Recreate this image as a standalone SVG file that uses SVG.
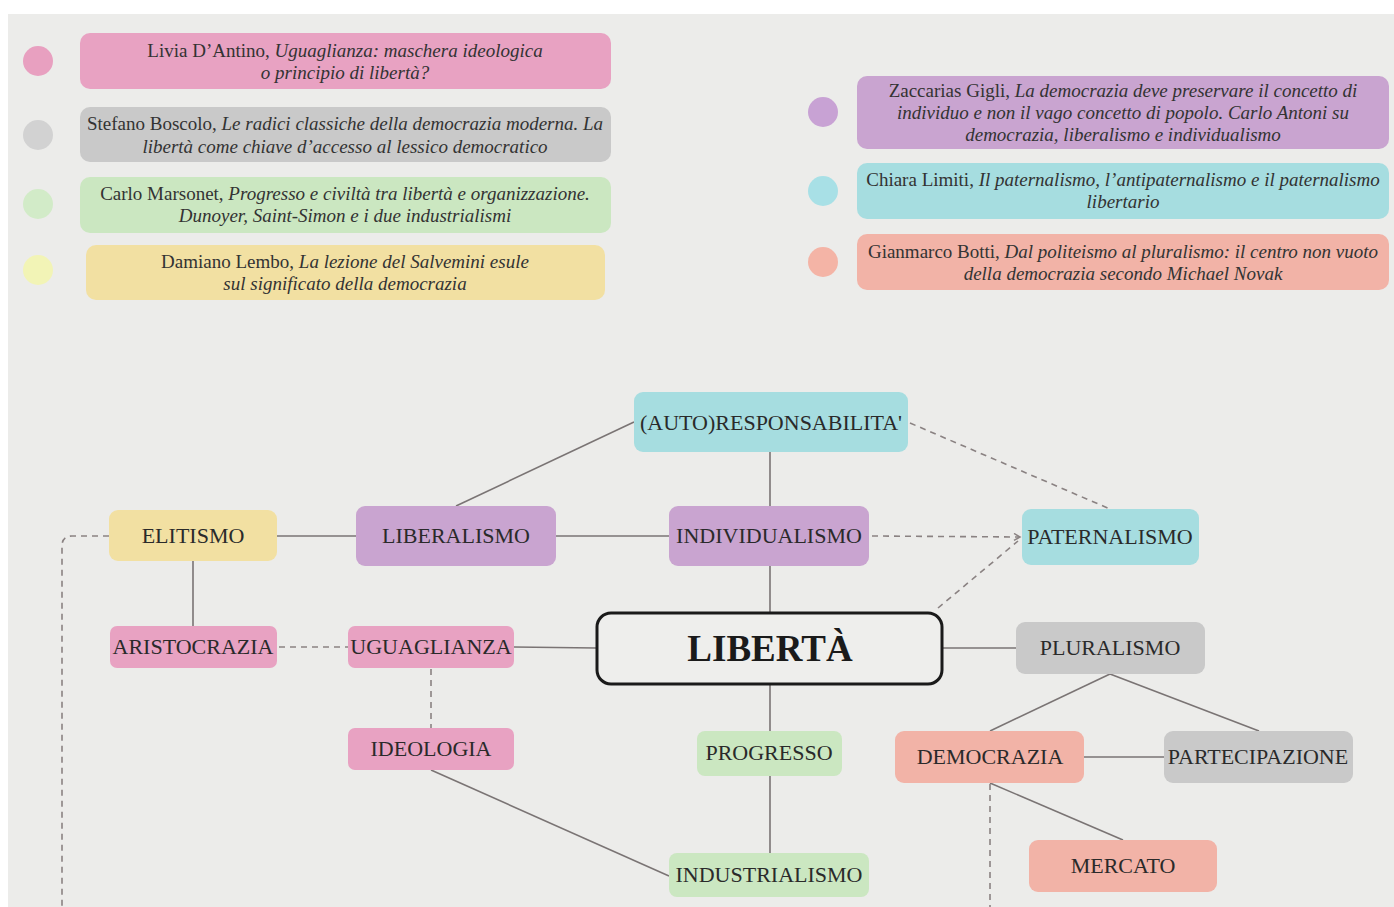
<svg xmlns="http://www.w3.org/2000/svg" width="1394" height="907" viewBox="0 0 1394 907">
<defs>
<style>
.bg{fill:#ECECEA}
.lg{font-family:"Liberation Serif","Times New Roman",serif;font-size:19px;fill:#333;text-anchor:middle}
.lg tspan.i{font-style:italic}
.nd{font-family:"Liberation Serif","Times New Roman",serif;font-size:22px;fill:#2a2a2a;text-anchor:middle}
.pink{fill:#E8A2C2}
.gray{fill:#C9C9C9}
.green{fill:#CBE7C1}
.yellow{fill:#F2E0A2}
.purple{fill:#C9A4D0}
.cyan{fill:#A6DDE0}
.salmon{fill:#F2B3A7}
.line{stroke:#7a7474;stroke-width:1.6;fill:none}
.dash{stroke:#8a8282;stroke-width:1.6;fill:none;stroke-dasharray:6 5}
</style>
<marker id="arr" markerWidth="10" markerHeight="10" refX="7" refY="4" orient="auto" markerUnits="userSpaceOnUse">
<path d="M1,0.5 L7,4 L1,7.5" fill="none" stroke="#8a8282" stroke-width="1.5"/>
</marker>
</defs>
<rect x="0" y="0" width="1394" height="907" fill="#ffffff"/>
<rect class="bg" x="8" y="14" width="1386" height="893"/>

<g id="legend">
<g id="legend-dantino">
<circle cx="38" cy="61" r="15" fill="#E8A0C0"/>
<rect class="pink" x="80" y="33" width="531" height="56" rx="10"/>
<text class="lg" x="345" y="57">Livia D’Antino, <tspan class="i">Uguaglianza: maschera ideologica</tspan></text>
<text class="lg" x="345" y="79"><tspan class="i">o principio di libertà?</tspan></text>
</g>
<g id="legend-boscolo">
<circle cx="38" cy="135" r="15" fill="#D2D2D2"/>
<rect class="gray" x="80" y="107" width="531" height="55" rx="10"/>
<text class="lg" x="345" y="130">Stefano Boscolo, <tspan class="i">Le radici classiche della democrazia moderna. La</tspan></text>
<text class="lg" x="345" y="153"><tspan class="i">libertà come chiave d’accesso al lessico democratico</tspan></text>
</g>
<g id="legend-marsonet">
<circle cx="38" cy="204" r="15" fill="#D2EBC8"/>
<rect class="green" x="80" y="177" width="531" height="56" rx="10"/>
<text class="lg" x="345" y="200">Carlo Marsonet, <tspan class="i">Progresso e civiltà tra libertà e organizzazione.</tspan></text>
<text class="lg" x="345" y="222"><tspan class="i">Dunoyer, Saint-Simon e i due industrialismi</tspan></text>
</g>
<g id="legend-lembo">
<circle cx="38" cy="270" r="15" fill="#F2F4B6"/>
<rect class="yellow" x="86" y="245" width="519" height="55" rx="10"/>
<text class="lg" x="345" y="268">Damiano Lembo, <tspan class="i">La lezione del Salvemini esule</tspan></text>
<text class="lg" x="345" y="290"><tspan class="i">sul significato della democrazia</tspan></text>
</g>
<g id="legend-gigli">
<circle cx="823" cy="112" r="15" fill="#C8A2D4"/>
<rect class="purple" x="857" y="76" width="532" height="73" rx="10"/>
<text class="lg" x="1123" y="97">Zaccarias Gigli, <tspan class="i">La democrazia deve preservare il concetto di</tspan></text>
<text class="lg" x="1123" y="119"><tspan class="i">individuo e non il vago concetto di popolo. Carlo Antoni su</tspan></text>
<text class="lg" x="1123" y="141"><tspan class="i">democrazia, liberalismo e individualismo</tspan></text>
</g>
<g id="legend-limiti">
<circle cx="823" cy="191" r="15" fill="#A8E0E6"/>
<rect class="cyan" x="857" y="163" width="532" height="56" rx="10"/>
<text class="lg" x="1123" y="186">Chiara Limiti, <tspan class="i">Il paternalismo, l’antipaternalismo e il paternalismo</tspan></text>
<text class="lg" x="1123" y="208"><tspan class="i">libertario</tspan></text>
</g>
<g id="legend-botti">
<circle cx="823" cy="262" r="15" fill="#F4B4A6"/>
<rect class="salmon" x="857" y="234" width="532" height="56" rx="10"/>
<text class="lg" x="1123" y="258">Gianmarco Botti, <tspan class="i">Dal politeismo al pluralismo: il centro non vuoto</tspan></text>
<text class="lg" x="1123" y="280"><tspan class="i">della democrazia secondo Michael Novak</tspan></text>
</g>
</g>

<g id="connectors">
<line class="line" x1="456" y1="506" x2="634" y2="422"/>
<line class="line" x1="770" y1="452" x2="770" y2="506"/>
<line class="line" x1="277" y1="536" x2="356" y2="536"/>
<line class="line" x1="556" y1="536" x2="669" y2="536"/>
<line class="line" x1="770" y1="566" x2="770" y2="612"/>
<line class="line" x1="193" y1="561" x2="193" y2="626"/>
<line class="line" x1="514" y1="647" x2="596" y2="648"/>
<line class="line" x1="943" y1="648" x2="1016" y2="648"/>
<line class="line" x1="770" y1="685" x2="770" y2="731"/>
<line class="line" x1="770" y1="776" x2="770" y2="853"/>
<line class="line" x1="431" y1="770" x2="669" y2="876"/>
<line class="line" x1="1110" y1="674" x2="990" y2="731"/>
<line class="line" x1="1110" y1="674" x2="1259" y2="731"/>
<line class="line" x1="1084" y1="757" x2="1164" y2="757"/>
<line class="line" x1="990" y1="783" x2="1123" y2="840"/>
<line class="dash" x1="910" y1="423" x2="1110" y2="509"/>
<line class="dash" x1="872" y1="536" x2="1020" y2="537" marker-end="url(#arr)"/>
<line class="dash" x1="938" y1="608" x2="1018" y2="541"/>
<line class="dash" x1="279" y1="647" x2="348" y2="647"/>
<line class="dash" x1="431" y1="669" x2="431" y2="728"/>
<path class="dash" d="M109,536 L72,536 Q62,536 62,546 L62,907"/>
<line class="dash" x1="990" y1="784" x2="990" y2="907"/>
</g>

<g id="n-autoresponsabilita">
<rect class="cyan" x="634" y="392" width="274" height="60" rx="9"/>
<text class="nd" x="771" y="430">(AUTO)RESPONSABILITA'</text>
</g>
<g id="n-elitismo">
<rect class="yellow" x="109" y="510" width="168" height="51" rx="9"/>
<text class="nd" x="193" y="543">ELITISMO</text>
</g>
<g id="n-liberalismo">
<rect class="purple" x="356" y="506" width="200" height="60" rx="9"/>
<text class="nd" x="456" y="543">LIBERALISMO</text>
</g>
<g id="n-individualismo">
<rect class="purple" x="669" y="506" width="200" height="60" rx="9"/>
<text class="nd" x="769" y="543">INDIVIDUALISMO</text>
</g>
<g id="n-paternalismo">
<rect class="cyan" x="1022" y="509" width="177" height="56" rx="9"/>
<text class="nd" x="1110" y="544">PATERNALISMO</text>
</g>
<g id="n-aristocrazia">
<rect class="pink" x="110" y="626" width="167" height="42" rx="7"/>
<text class="nd" x="193" y="654">ARISTOCRAZIA</text>
</g>
<g id="n-uguaglianza">
<rect class="pink" x="348" y="626" width="166" height="42" rx="7"/>
<text class="nd" x="431" y="654">UGUAGLIANZA</text>
</g>
<g id="n-liberta">
<rect x="597" y="613" width="345" height="71" rx="14" fill="#EEEEEC" stroke="#1a1a1a" stroke-width="3"/>
<text x="770" y="661" font-family="'Liberation Serif','Times New Roman',serif" font-size="37" font-weight="bold" fill="#1a1a1a" text-anchor="middle">LIBERTÀ</text>
</g>
<g id="n-pluralismo">
<rect class="gray" x="1016" y="622" width="189" height="52" rx="9"/>
<text class="nd" x="1110" y="655">PLURALISMO</text>
</g>
<g id="n-ideologia">
<rect class="pink" x="348" y="728" width="166" height="42" rx="7"/>
<text class="nd" x="431" y="756">IDEOLOGIA</text>
</g>
<g id="n-progresso">
<rect class="green" x="697" y="731" width="145" height="45" rx="8"/>
<text class="nd" x="769" y="760">PROGRESSO</text>
</g>
<g id="n-democrazia">
<rect class="salmon" x="895" y="731" width="189" height="52" rx="9"/>
<text class="nd" x="990" y="764">DEMOCRAZIA</text>
</g>
<g id="n-partecipazione">
<rect class="gray" x="1164" y="731" width="189" height="52" rx="9"/>
<text class="nd" x="1258" y="764">PARTECIPAZIONE</text>
</g>
<g id="n-industrialismo">
<rect class="green" x="669" y="853" width="200" height="44" rx="8"/>
<text class="nd" x="769" y="882">INDUSTRIALISMO</text>
</g>
<g id="n-mercato">
<rect class="salmon" x="1029" y="840" width="188" height="52" rx="9"/>
<text class="nd" x="1123" y="873">MERCATO</text>
</g>
</svg>
